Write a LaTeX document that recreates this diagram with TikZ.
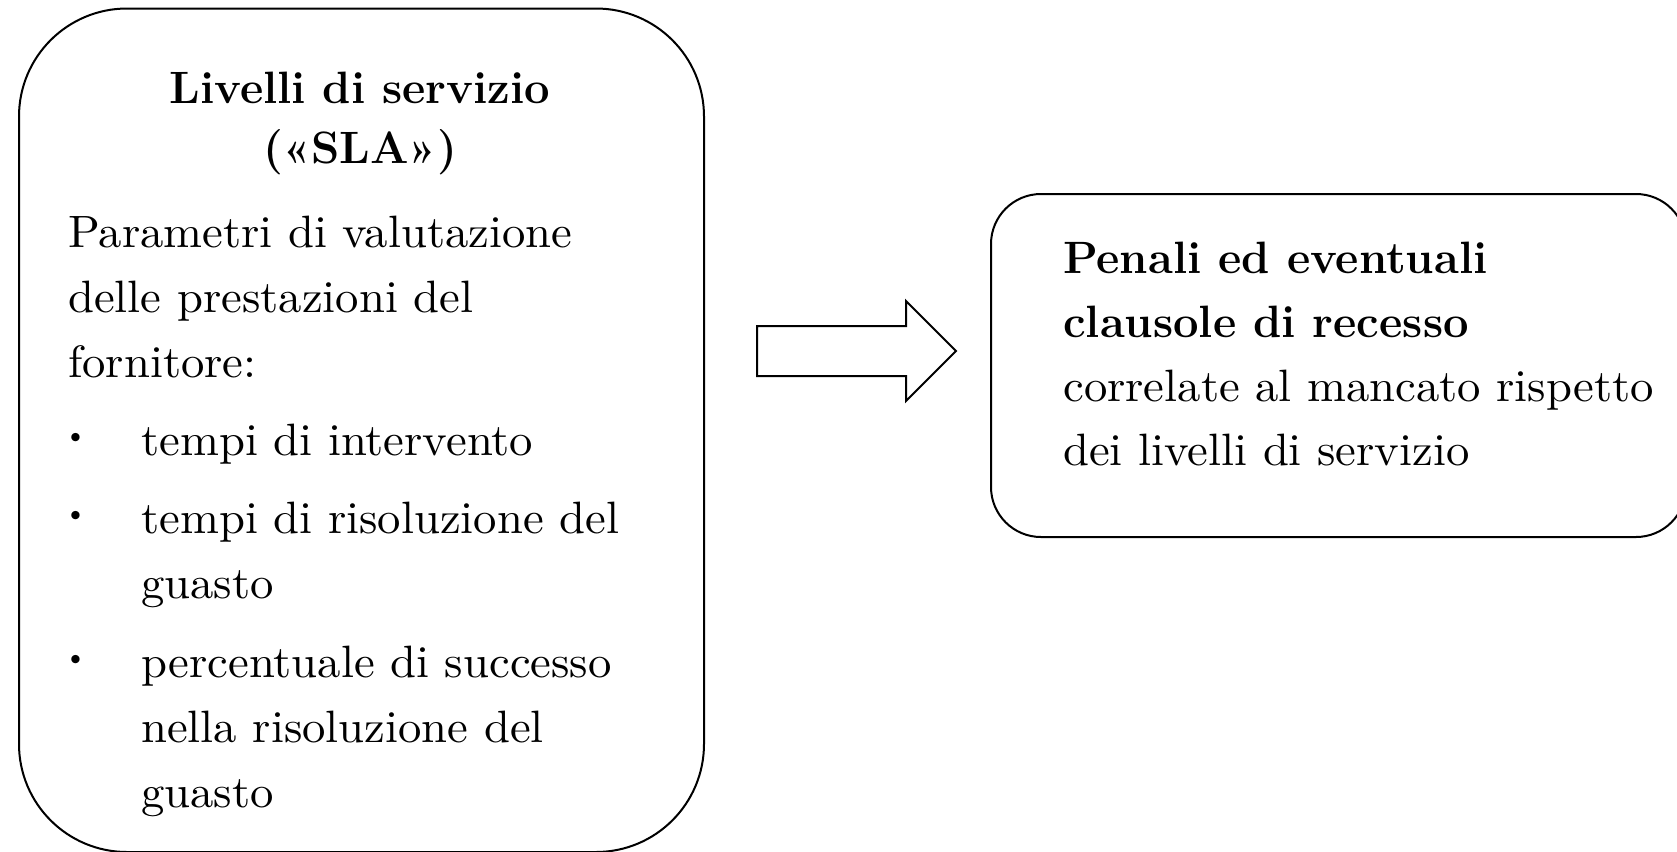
\documentclass[tikz,border=0pt]{standalone}
\usepackage{fontspec}
\newfontfamily\largo{lmroman10-regular}[Extension=.otf, FakeStretch=1.03]
\usetikzlibrary{shapes.arrows,fit}

\tikzset{
  riquadro/.style={draw, line width=1.5pt, rounded corners=#1, inner sep=0pt},
  testo/.style={anchor=base west, inner sep=0pt, font=\fontsize{34}{48}\selectfont\largo},
  grassetto/.style={anchor=base west, inner sep=0pt, font=\fontsize{34}{48}\selectfont\bfseries},
  titolo/.style={anchor=base, inner sep=0pt, font=\fontsize{34}{48}\selectfont\bfseries},
  punto/.style={anchor=base, inner sep=0pt, font=\fontsize{28}{30}\selectfont},
}

\begin{document}
\begin{tikzpicture}[x=0.75pt,y=0.75pt,yscale=-1,xscale=1]
        \useasboundingbox (0,0) rectangle (1677,851);
        % riquadri
        \node [riquadro=81pt, fit={(19,8.5) (704,852)}] (sla) {};
        \node [riquadro=37.5pt, fit={(991,194) (1686,537)}] (penali) {};
        % freccia
        \node [single arrow, draw, line width=1.5pt, inner xsep=0pt, inner ysep=18pt, single arrow head extend=18.75pt, minimum height=149.25pt, anchor=tail] (freccia) at (756,351) {};

        \node [titolo] (tit1) at (360,103) {Livelli di servizio};
        \node [titolo] (tit2) at (360,163) {(«SLA»)};
        \node [testo] (par1) at (68,247) {Parametri di valutazione};
        \node [testo] (par2) at (68,312) {delle prestazioni del};
        \node [testo] (par3) at (68,377) {fornitore:};
        \node [punto] (pt1) at (76,447) {\textbullet};
        \node [testo] (voce1) at (141,455) {tempi di intervento};
        \node [punto] (pt2) at (76,525) {\textbullet};
        \node [testo] (voce2a) at (141,533) {tempi di risoluzione del};
        \node [testo] (voce2b) at (141,598) {guasto};
        \node [punto] (pt3) at (76,669) {\textbullet};
        \node [testo] (voce3a) at (141,677) {percentuale di successo};
        \node [testo] (voce3b) at (141,742) {nella risoluzione del};
        \node [testo] (voce3c) at (141,807) {guasto};

        \node [grassetto] (pen1) at (1063,273) {Penali ed eventuali};
        \node [grassetto] (pen2) at (1063,337) {clausole di recesso};
        \node [testo] (pen3) at (1063,401) {correlate al mancato rispetto};
        \node [testo] (pen4) at (1063,465) {dei livelli di servizio};
\end{tikzpicture}
\end{document}
